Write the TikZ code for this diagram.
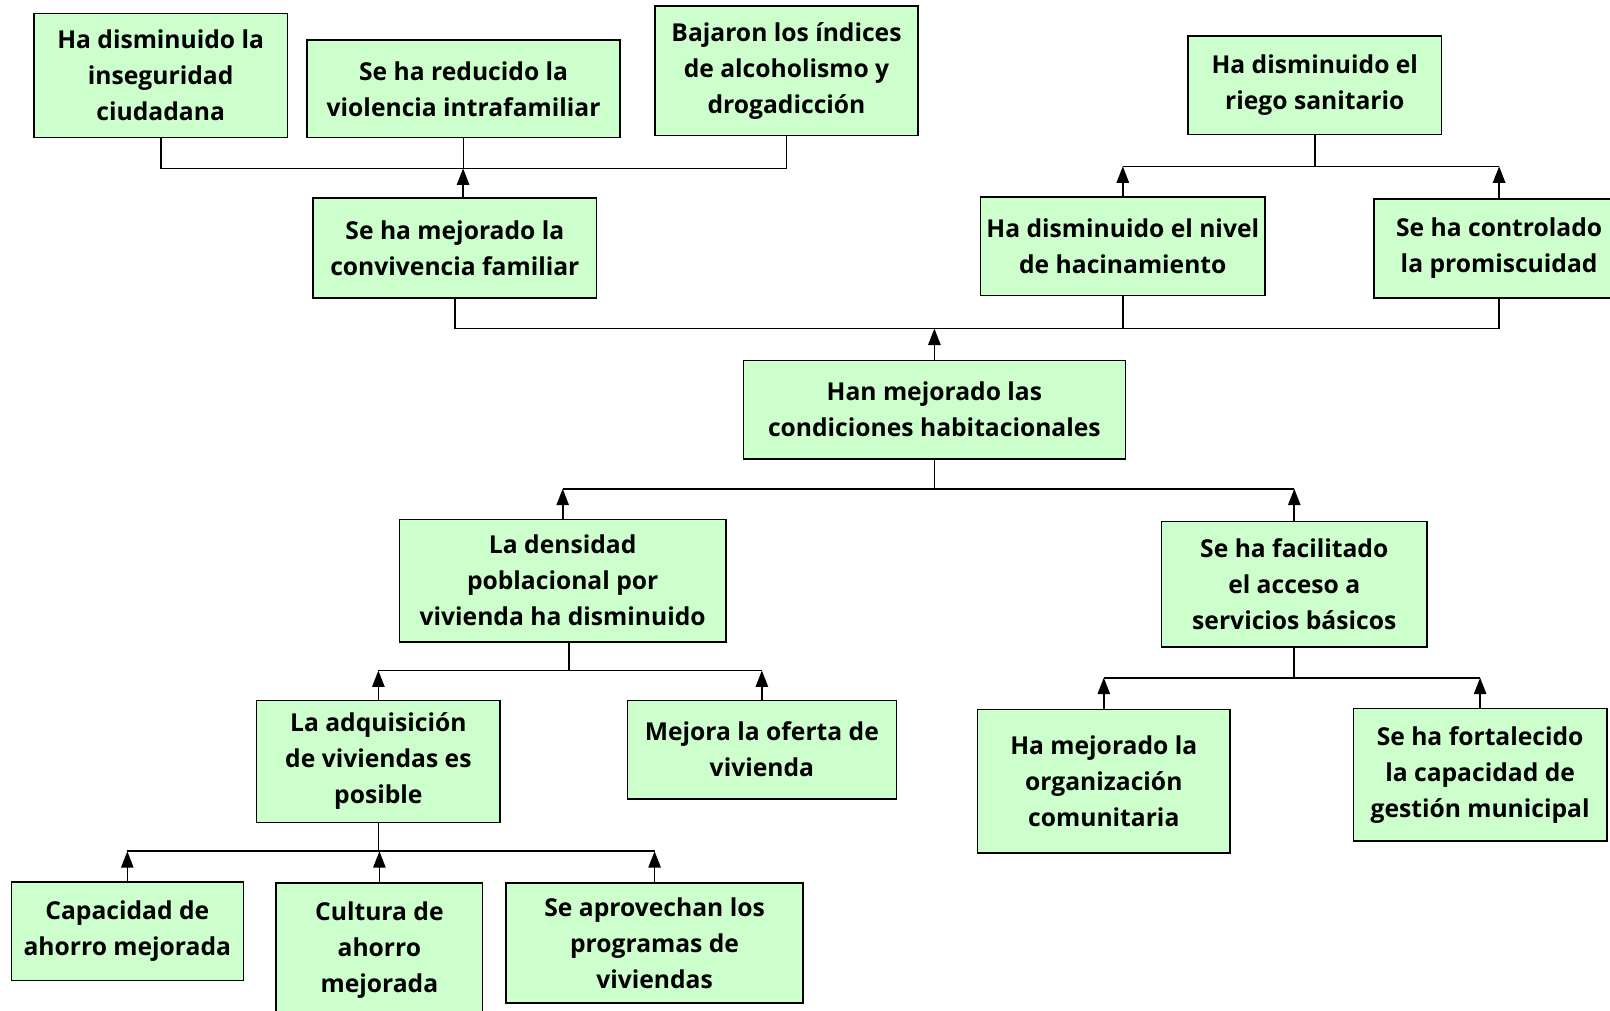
\documentclass[tikz,border=0pt]{standalone}
\usepackage{fontspec}
\setmainfont{Open Sans}
\usetikzlibrary{arrows.meta}
\definecolor{boxgreen}{HTML}{CCFFCC}
\begin{document}
\begin{tikzpicture}[x=1pt,y=-1pt,
  box/.style={draw=black, line width=1.5pt, fill=boxgreen, align=center,
    font=\fontsize{24}{35}\selectfont\bfseries, inner sep=0pt},
  link/.style={line width=1.6pt},
  up/.style={line width=1.6pt, -{Triangle[length=16pt,width=12pt]}}]
\fill[white] (0,0) rectangle (1568,984);
\useasboundingbox (0,0) rectangle (1568,984);

% top-left group
\node[box, minimum width=247, minimum height=121] (A) at (156.5,73.5) {Ha disminuido la\\inseguridad\\ciudadana};
\node[box, minimum width=305, minimum height=95] (B) at (451.5,86.5) {Se ha reducido la\\violencia intrafamiliar};
\node[box, minimum width=256, minimum height=126] (C) at (766,69) {Bajaron los índices\\de alcoholismo y\\drogadicción};
\node[box, minimum width=276, minimum height=97] (D) at (443,241.5) {Se ha mejorado la\\convivencia familiar};

% top-right group
\node[box, minimum width=247, minimum height=96] (E) at (1280.5,83) {Ha disminuido el\\riego sanitario};
\node[box, minimum width=277, minimum height=96] (F) at (1093.5,240) {Ha disminuido el nivel\\de hacinamiento};
\node[box, minimum width=244, minimum height=96] (G) at (1460,242) {Se ha controlado\\la promiscuidad};

% center
\node[box, minimum width=372, minimum height=96] (H) at (910,399) {Han mejorado las\\condiciones habitacionales};

% middle
\node[box, minimum width=318, minimum height=119] (I) at (548,565.5) {La densidad\\poblacional por\\vivienda ha disminuido};
\node[box, minimum width=259, minimum height=122] (J) at (1260.5,569) {Se ha facilitado\\el acceso a\\servicios básicos};

% lower
\node[box, minimum width=237, minimum height=119] (K) at (368.5,741.5) {La adquisición\\de viviendas es\\posible};
\node[box, minimum width=262, minimum height=96] (L) at (742,730) {Mejora la oferta de\\vivienda};
\node[box, minimum width=246, minimum height=140] (P) at (1075,761) {Ha mejorado la\\organización\\comunitaria};
\node[box, minimum width=247, minimum height=129] (Q) at (1441.5,754.5) {Se ha fortalecido\\la capacidad de\\gestión municipal};

% bottom
\node[box, minimum width=226, minimum height=96] (M) at (124,907) {Capacidad de\\ahorro mejorada};
\node[box, minimum width=201, minimum height=130] (N) at (369.5,925) {Cultura de\\ahorro\\mejorada};
\node[box, minimum width=289, minimum height=117] (O) at (637.5,918.5) {Se aprovechan los\\programas de\\viviendas};

% junctions
\coordinate (j1) at (451,164);
\coordinate (j2) at (1281,162);
\coordinate (j3) at (910,320);
\coordinate (j4) at (910,476);
\coordinate (j5) at (554,653);
\coordinate (j6) at (369,829);
\coordinate (j7) at (1261,660);

% D -> A,B,C
\draw[link] (A.south) -- (A.south |- j1) -- (C.south |- j1) -- (C.south);
\draw[link] (B.south) -- (B.south |- j1);
\draw[up] (D.north -| j1) -- (j1);

% F,G -> E
\draw[link] (E.south) -- (E.south |- j2);
\draw[link] (F.north |- j2) -- (G.north |- j2);
\draw[up] (F.north) -- (F.north |- j2);
\draw[up] (G.north) -- (G.north |- j2);

% H -> D,F,G
\draw[link] (D.south) -- (D.south |- j3) -- (G.south |- j3) -- (G.south);
\draw[link] (F.south) -- (F.south |- j3);
\draw[up] (H.north) -- (j3);

% I,J -> H
\draw[link] (H.south) -- (j4);
\draw[link] (I.north |- j4) -- (J.north |- j4);
\draw[up] (I.north) -- (I.north |- j4);
\draw[up] (J.north) -- (J.north |- j4);

% K,L -> I
\draw[link] (I.south -| j5) -- (j5);
\draw[link] (K.north |- j5) -- (L.north |- j5);
\draw[up] (K.north) -- (K.north |- j5);
\draw[up] (L.north) -- (L.north |- j5);

% M,N,O -> K
\draw[link] (K.south) -- (K.south |- j6);
\draw[link] (M.north |- j6) -- (O.north |- j6);
\draw[up] (M.north) -- (M.north |- j6);
\draw[up] (N.north) -- (N.north |- j6);
\draw[up] (O.north) -- (O.north |- j6);

% P,Q -> J
\draw[link] (J.south) -- (J.south |- j7);
\draw[link] (P.north |- j7) -- (Q.north |- j7);
\draw[up] (P.north) -- (P.north |- j7);
\draw[up] (Q.north) -- (Q.north |- j7);
\end{tikzpicture}
\end{document}
